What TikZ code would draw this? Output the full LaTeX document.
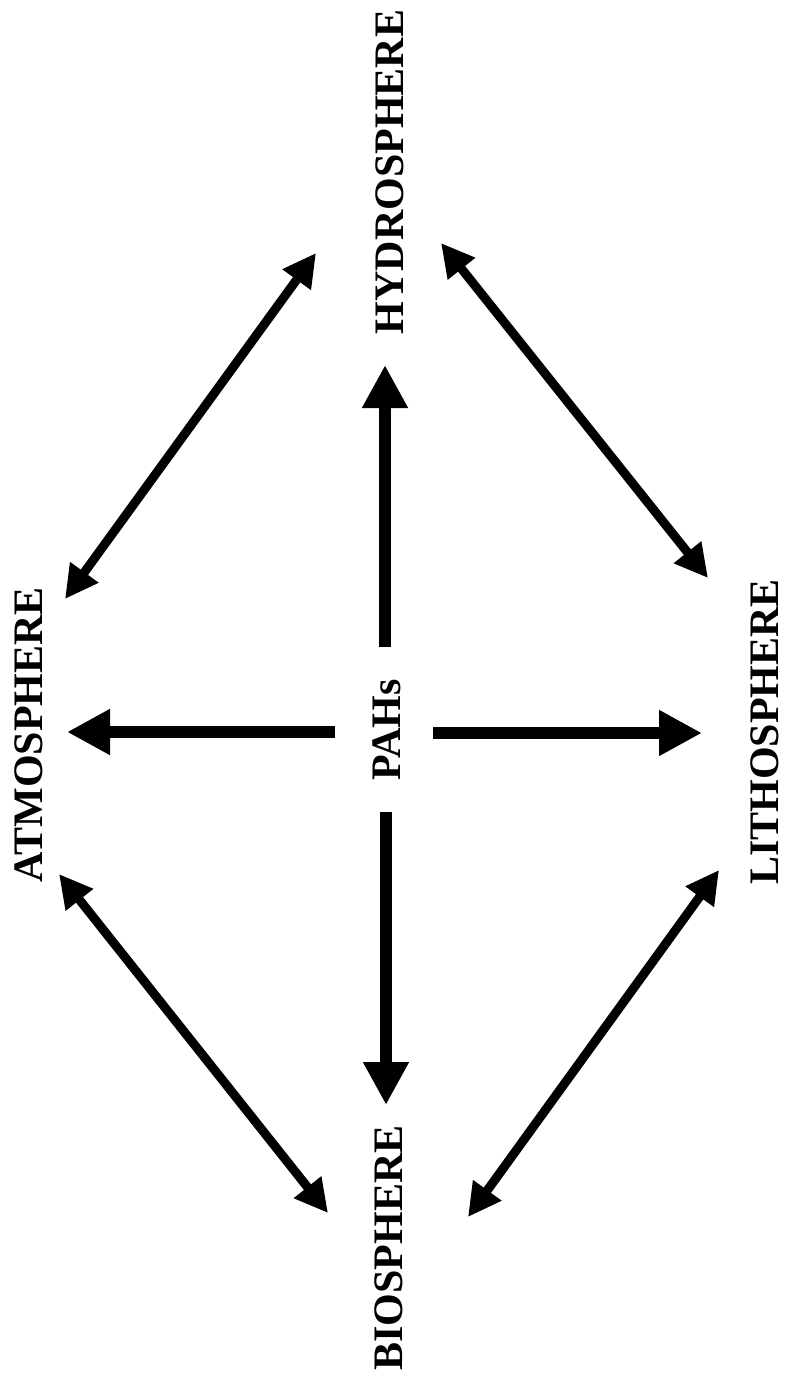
\documentclass[tikz,border=0pt]{standalone}
\usepackage{fontspec}
\setmainfont{Liberation Serif}
\usetikzlibrary{arrows.meta}
\begin{document}
\begin{tikzpicture}[x=1pt,y=-1pt,
  label/.style={rotate=90,anchor=base,inner sep=0pt,font=\fontsize{42}{42}\selectfont\bfseries},
  bigarrow/.style={line width=12pt,-{Triangle[length=43pt,width=43pt]}},
  linkarrow/.style={line width=9pt,{Triangle[length=33pt,width=33pt]}-{Triangle[length=33pt,width=33pt]}}]
\useasboundingbox (0,0) rectangle (788,1380);
\node[label] (atm) at (42,735) {ATMOSPHERE};
\node[label] (hyd) at (403,172) {HYDROSPHERE};
\node[label] (pah) at (400,730) {PAHs};
\node[label] (lit) at (778,732) {LITHOSPHERE};
\node[label] (bio) at (402,1248) {BIOSPHERE};
% thick arrow ends
\coordinate (pu) at (385,647);
\coordinate (hu) at (385,365);
\coordinate (pl) at (335,732);
\coordinate (al) at (67,732);
\coordinate (pr) at (433,733);
\coordinate (lr) at (702,733);
\coordinate (pd) at (386,812);
\coordinate (bd) at (386,1105);
\draw[bigarrow] (pu) -- (hu);
\draw[bigarrow] (pl) -- (al);
\draw[bigarrow] (pr) -- (lr);
\draw[bigarrow] (pd) -- (bd);
% diagonal link ends
\coordinate (ah) at (65,599);
\coordinate (ha) at (316,253);
\coordinate (hl) at (441,243);
\coordinate (lh) at (708,578);
\coordinate (ab) at (59,874);
\coordinate (ba) at (328,1213);
\coordinate (lb) at (719,870);
\coordinate (bl) at (468,1217);
\draw[linkarrow] (ah) -- (ha);
\draw[linkarrow] (hl) -- (lh);
\draw[linkarrow] (ab) -- (ba);
\draw[linkarrow] (lb) -- (bl);
\end{tikzpicture}
\end{document}
